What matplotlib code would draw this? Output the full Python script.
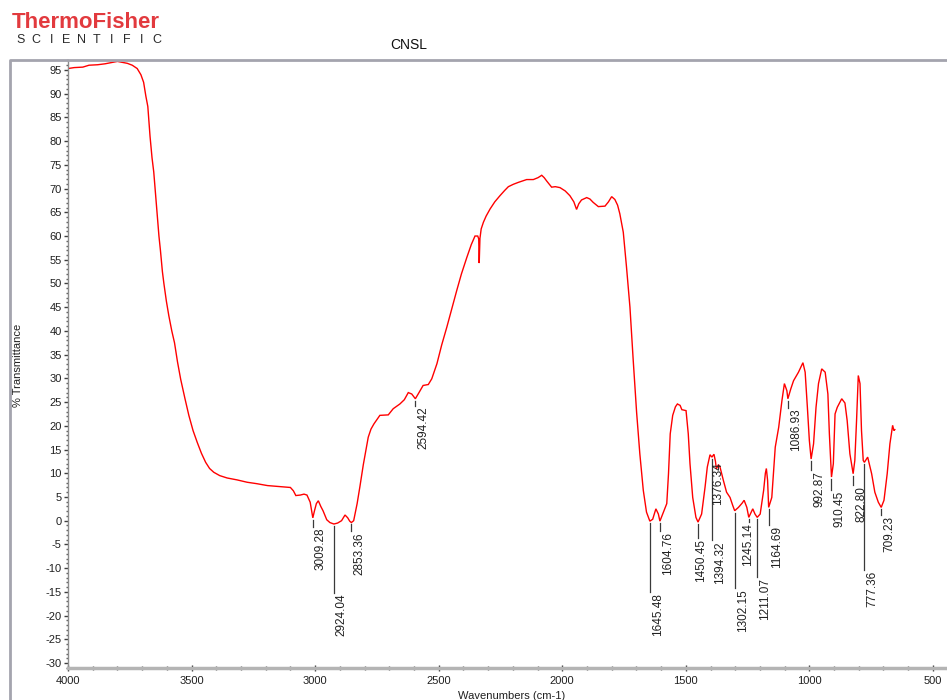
import numpy as np
import matplotlib
matplotlib.use("Agg")
import matplotlib.pyplot as plt
from matplotlib.lines import Line2D
from matplotlib.ticker import MultipleLocator
import matplotlib.transforms as mtransforms

plt.rcParams["font.family"] = ["Liberation Sans", "DejaVu Sans"]
plt.rcParams["axes.unicode_minus"] = False

# FTIR spectrum of CNSL: wavenumber (cm-1) and % transmittance
wavenumber = [
    4000, 3975, 3940, 3915, 3880, 3850, 3820, 3800, 3780, 3760, 3740, 3720, 3705,
    3694, 3685, 3677, 3668, 3660, 3653, 3646, 3639, 3632, 3626, 3618, 3612, 3602,
    3592, 3580, 3569, 3557, 3544, 3527, 3511, 3494, 3477, 3460, 3443, 3427, 3410,
    3386, 3356, 3316, 3275, 3236, 3193, 3146, 3100, 3088, 3078, 3060, 3045, 3033,
    3020, 3013, 3009.28, 3003, 2995, 2987, 2977, 2968, 2953, 2940, 2924.04, 2909,
    2893, 2879, 2868, 2860, 2853.36, 2844, 2830, 2819, 2805, 2794, 2785, 2774,
    2762, 2738, 2704, 2684, 2657, 2639, 2623, 2609, 2594.42, 2583, 2563, 2542,
    2528, 2507, 2488, 2467, 2448, 2427, 2408, 2386, 2368, 2353, 2342, 2338, 2336,
    2333, 2328, 2319, 2308, 2292, 2273, 2252, 2233, 2218, 2198, 2178, 2144, 2117,
    2098, 2083, 2073, 2063, 2043, 2028, 2009, 1988, 1969, 1953, 1942, 1933, 1922,
    1901, 1888, 1875, 1854, 1827, 1813, 1800, 1787, 1776, 1767, 1753, 1740, 1726,
    1713, 1699, 1686, 1672, 1659, 1645.48, 1634, 1621, 1611, 1604.76, 1588, 1577,
    1570, 1563, 1553, 1542, 1534, 1523, 1516, 1499, 1490, 1483, 1472, 1459,
    1450.45, 1436, 1422, 1413, 1402, 1394.32, 1386, 1380, 1376.34, 1368, 1362,
    1348, 1335, 1321, 1310, 1302.15, 1287, 1272, 1264, 1253, 1245.14, 1229, 1220,
    1211.07, 1199, 1185, 1178, 1174, 1169, 1166, 1164.69, 1152, 1138, 1124, 1111,
    1101, 1091, 1086.93, 1075, 1064, 1044, 1026, 1017, 1008, 1000, 992.87, 983,
    973, 963, 950, 936, 925, 919, 910.45, 903, 896, 887, 869, 856, 847, 836,
    822.80, 816, 809, 802, 795, 789, 782, 777.36, 764, 748, 735, 721, 709.23, 698,
    685, 674, 663, 658, 654,
]
transmittance = [
    95.3, 95.5, 95.6, 96.0, 96.1, 96.3, 96.6, 96.8, 96.6, 96.4, 96.0, 95.3, 94.0,
    92.4, 89.5, 87.3, 81.0, 76.5, 73.5, 69.0, 64.5, 60.0, 57.0, 52.5, 50.0, 46.3,
    43.2, 40.0, 37.5, 33.5, 29.8, 25.8, 22.2, 19.0, 16.5, 14.2, 12.3, 11.0, 10.2,
    9.5, 9.0, 8.6, 8.1, 7.8, 7.4, 7.2, 7.0, 6.3, 5.3, 5.4, 5.6, 5.4,
    3.9, 1.8, 0.6, 2.0, 3.6, 4.2, 3.0, 2.1, 0.2, -0.4, -0.7, -0.5,
    0.0, 1.2, 0.6, -0.1, -0.4, 0.0, 3.6, 7.1, 11.8, 15.0, 17.6, 19.3,
    20.4, 22.2, 22.3, 23.6, 24.6, 25.5, 27.0, 26.7, 25.7, 26.7, 28.5, 28.7,
    29.9, 33.1, 37.0, 40.8, 44.5, 48.5, 52.0, 55.5, 58.2, 60.0, 60.0, 59.4, 54.3,
    59.5, 61.5, 62.9, 64.2, 65.7, 67.2, 68.5, 69.6, 70.4, 70.9, 71.3, 71.9, 71.9,
    72.3, 72.8, 72.3, 71.6, 70.3, 70.4, 70.2, 69.5, 68.5, 67.2, 65.6, 66.8, 67.6,
    68.1, 67.8, 67.1, 66.2, 66.3, 67.2, 68.3, 67.7, 66.5, 64.7, 60.8, 53.5, 45.0,
    34.0, 22.8, 14.1, 6.4, 1.8, -0.1, 0.3, 2.5, 1.4, -0.1, 2.1, 3.6,
    9.9, 18.3, 22.2, 24.0, 24.6, 24.3, 23.4, 23.2, 18.3, 12.0, 4.9, 0.7,
    -0.3, 1.4, 7.1, 11.3, 13.9, 13.4, 14.0, 12.5, 10.9, 11.8, 11.4,
    8.5, 6.0, 4.9, 3.2, 2.1, 2.8, 3.7, 4.3, 2.8, 0.7, 2.5, 1.4,
    0.7, 1.4, 6.4, 10.0, 11.0, 8.5, 4.5, 2.8, 4.9, 15.5, 19.7, 25.3,
    28.9, 27.4, 25.7, 27.8, 29.5, 31.3, 33.3, 31.3, 23.9, 16.9, 13.0, 16.2,
    23.9, 28.9, 32.0, 31.3, 26.7, 18.3, 9.2, 12.0, 22.5, 23.9, 25.7, 24.8, 21.1, 14.1,
    9.9, 12.7, 21.1, 30.6, 28.9, 19.0, 12.7, 12.3, 13.4, 9.9, 6.0, 3.9, 2.8, 4.3,
    9.9, 16.2, 20.1, 19.0, 19.2,
]

# Labelled absorption bands
peak_wavenumbers = [3009.28, 2924.04, 2853.36, 2594.42, 1645.48, 1604.76,
                    1450.45, 1394.32, 1376.34, 1302.15, 1245.14, 1211.07,
                    1164.69, 1086.93, 992.87, 910.45, 822.80, 777.36, 709.23]
peak_labels = ["3009.28", "2924.04", "2853.36", "2594.42", "1645.48", "1604.76",
               "1450.45", "1394.32", "1376.34", "1302.15", "1245.14", "1211.07",
               "1164.69", "1086.93", "992.87", "910.45", "822.80", "777.36",
               "709.23"]

# where each leader line ends (in %T) and horizontal nudge of its label (px)
label_end = [-1.3, -15.2, -2.2, 24.2, -15.0, -2.2, -3.7, -4.1, 12.6, -14.2,
             -0.3, -11.9, -0.9, 23.8, 10.7, 6.5, 7.5, -10.4, 1.2]
label_dx = [2, 2, 2, 2, 2, 2, -3, 2, -4, 2, -7, 2, 2, 2, 2, 2, 2, 2, 2]

W, H = 947, 700
fig = plt.figure(figsize=(W / 100, H / 100), dpi=100)
fig.patch.set_facecolor("white")

ax = fig.add_axes([68 / W, 32 / H, (W - 68) / W, (668 - 60) / H])
ax.set_xlim(4000, 443)
ax.set_ylim(-31.05, 97.1)

wn = np.array(wavenumber)
tr = np.array(transmittance)
ax.plot(wn, tr, color="#ff0000", lw=1.0, solid_joinstyle="miter")

# peak annotations
order = np.argsort(wn)
for pw, lab, tend, dx in zip(peak_wavenumbers, peak_labels, label_end, label_dx):
    tp = np.interp(pw, wn[order], tr[order])
    if tend < tp:
        ax.plot([pw, pw], [tp - 0.4, tend], color="#3a3a3a", lw=0.9)
    trans = mtransforms.offset_copy(ax.transData, fig=fig, x=dx, y=-1, units="dots")
    ax.text(pw, tend, lab, rotation=90, ha="left", va="top", fontsize=8.5,
            color="#202020", transform=trans)

# axes styling
for s in ("top", "right"):
    ax.spines[s].set_visible(False)
ax.spines["left"].set_color("#8c8c8c")
ax.spines["left"].set_linewidth(1.0)
ax.spines["bottom"].set_color("#b4b4b4")
ax.spines["bottom"].set_linewidth(2.5)

ax.yaxis.set_major_locator(MultipleLocator(5))
ax.yaxis.set_minor_locator(MultipleLocator(1))
ax.xaxis.set_major_locator(MultipleLocator(500))
ax.xaxis.set_minor_locator(MultipleLocator(100))
ax.set_yticks(np.arange(-30, 96, 5))
ax.set_xticks(np.arange(4000, 499, -500))

ax.tick_params(axis="y", which="major", direction="out", length=3, width=1,
               color="#404040", labelsize=8, labelcolor="#202020", pad=1.5)
ax.tick_params(axis="y", which="minor", direction="out", length=1.5, width=1,
               color="#606060")
ax.tick_params(axis="x", which="major", direction="inout", length=5, width=1,
               color="#404040", labelsize=8, labelcolor="#202020", pad=3)
ax.tick_params(axis="x", which="minor", direction="inout", length=3, width=1,
               color="#505050")

# outer frame
frame_col = "#a4a4ae"
fig.add_artist(Line2D([10 / W, 10 / W, 1.0], [0, 1 - 60 / H, 1 - 60 / H],
                      transform=fig.transFigure, color=frame_col, lw=2.0))

# titles and axis labels
fig.text(409 / W, 1 - 45 / H, "CNSL", ha="center", va="center", fontsize=10,
         color="#101010")
fig.text(18 / W, 1 - 365 / H, "% Transmittance", rotation=90, ha="center",
         va="center", fontsize=8, color="#202020")
fig.text(512 / W, 1 - 691 / H, "Wavenumbers (cm-1)", ha="center", va="top",
         fontsize=8, color="#202020")

# brand mark
fig.text(12 / W, 1 - 23 / H, "ThermoFisher", ha="left", va="center",
         fontsize=16, fontweight="bold", color="#e23a3e")
for i, ch in enumerate("SCIENTIFIC"):
    fig.text((21 + i * 15.1) / W, 1 - 40 / H, ch, ha="center", va="center",
             fontsize=9, color="#2a2a2a")

fig.savefig("out.png", dpi=100, facecolor="white")
